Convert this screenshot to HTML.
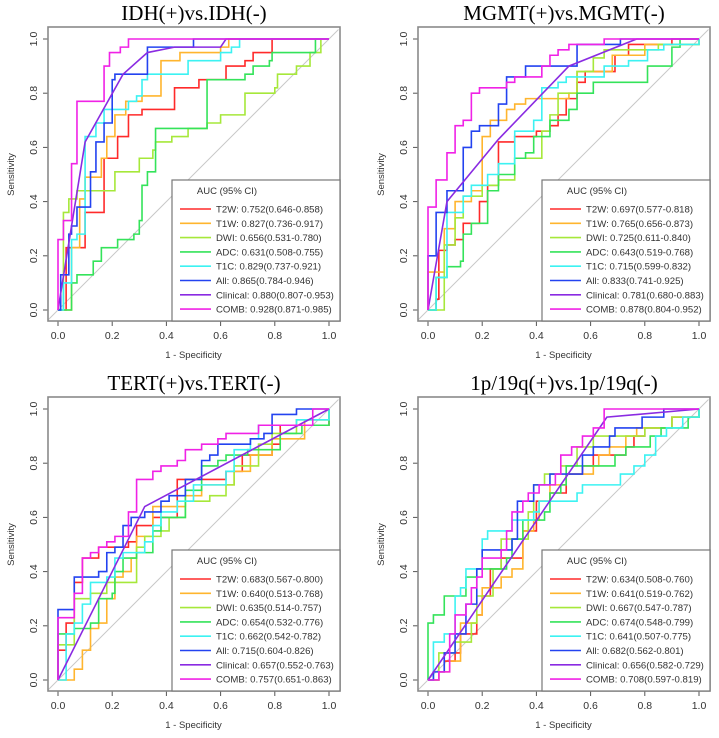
<!DOCTYPE html>
<html><head><meta charset="utf-8"><style>
html,body{margin:0;padding:0;background:#fff;}
svg{display:block;}
</style></head><body>
<svg id="c" width="719" height="738" xmlns="http://www.w3.org/2000/svg"></svg>
<script>
const seriesNames = ["T2W","T1W","DWI","ADC","T1C","All","Clinical","COMB"];
const titles = ["IDH(+)vs.IDH(-)","MGMT(+)vs.MGMT(-)","TERT(+)vs.TERT(-)","1p/19q(+)vs.1p/19q(-)"];
const xTicks = [0,0.2,0.4,0.6,0.8,1.0];
const yTicks = [0,0.2,0.4,0.6,0.8,1.0];
const aucIDH = ["0.752(0.646-0.858)","0.827(0.736-0.917)","0.656(0.531-0.780)","0.631(0.508-0.755)","0.829(0.737-0.921)","0.865(0.784-0.946)","0.880(0.807-0.953)","0.928(0.871-0.985)"];
const aucMGMT = ["0.697(0.577-0.818)","0.765(0.656-0.873)","0.725(0.611-0.840)","0.643(0.519-0.768)","0.715(0.599-0.832)","0.833(0.741-0.925)","0.781(0.680-0.883)","0.878(0.804-0.952)"];
const aucTERT = ["0.683(0.567-0.800)","0.640(0.513-0.768)","0.635(0.514-0.757)","0.654(0.532-0.776)","0.662(0.542-0.782)","0.715(0.604-0.826)","0.657(0.552-0.763)","0.757(0.651-0.863)"];
const auc1p19q = ["0.634(0.508-0.760)","0.641(0.519-0.762)","0.667(0.547-0.787)","0.674(0.548-0.799)","0.641(0.507-0.775)","0.682(0.562-0.801)","0.656(0.582-0.729)","0.708(0.597-0.819)"];

const idhT2W=[[0,0],[0.03,0.23],[0.1,0.31],[0.1,0.36],[0.17,0.36],[0.17,0.56],[0.22,0.56],[0.22,0.64],[0.26,0.64],[0.26,0.72],[0.31,0.72],[0.31,0.74],[0.43,0.74],[0.43,0.82],[0.52,0.82],[0.52,0.85],[0.62,0.85],[0.62,0.9],[0.69,0.9],[0.69,0.92],[0.72,0.95],[0.79,0.95],[0.79,1],[1,1]];
const idhT1W=[[0,0],[0.05,0.23],[0.08,0.41],[0.1,0.49],[0.16,0.56],[0.18,0.64],[0.21,0.72],[0.25,0.77],[0.31,0.79],[0.38,0.88],[0.38,0.92],[0.45,0.95],[0.6,0.97],[0.63,1],[1,1]];
const idhDWI=[[0,0],[0.02,0.36],[0.04,0.41],[0.07,0.44],[0.14,0.44],[0.21,0.51],[0.3,0.56],[0.35,0.59],[0.36,0.62],[0.42,0.64],[0.48,0.67],[0.55,0.69],[0.6,0.72],[0.69,0.72],[0.69,0.8],[0.8,0.82],[0.81,0.87],[0.88,0.9],[0.93,0.95],[0.97,1],[1,1]];
const idhADC=[[0,0],[0.05,0.03],[0.05,0.1],[0.07,0.13],[0.12,0.13],[0.13,0.18],[0.16,0.23],[0.22,0.26],[0.28,0.28],[0.3,0.33],[0.31,0.46],[0.33,0.51],[0.36,0.67],[0.46,0.67],[0.55,0.85],[0.67,0.85],[0.69,0.87],[0.72,0.9],[0.78,0.92],[0.79,0.95],[0.88,0.95],[0.95,0.97],[0.95,1],[1,1]];
const idhT1C=[[0,0],[0.02,0.05],[0.02,0.1],[0.05,0.26],[0.07,0.28],[0.1,0.64],[0.14,0.69],[0.17,0.74],[0.26,0.77],[0.29,0.79],[0.31,0.82],[0.31,0.85],[0.33,0.87],[0.48,0.92],[0.6,0.95],[0.64,0.97],[0.67,1],[1,1]];
const idhAll=[[0,0],[0.01,0.13],[0.04,0.28],[0.05,0.31],[0.07,0.38],[0.12,0.51],[0.14,0.62],[0.17,0.69],[0.2,0.85],[0.21,0.87],[0.33,0.87],[0.33,0.97],[0.5,0.97],[0.5,1],[1,1]];
const idhClin=[[0,0],[0.1,0.62],[0.24,0.87],[0.33,0.95],[0.43,0.97],[0.6,0.97],[0.62,1],[1,1]];
const idhCOMB=[[0,0],[0,0.26],[0.02,0.33],[0.05,0.54],[0.07,0.77],[0.17,0.9],[0.19,0.95],[0.23,0.97],[0.26,1],[1,1]];
const mgT2W=[[0,0],[0.03,0.04],[0.04,0.22],[0.07,0.24],[0.1,0.26],[0.13,0.32],[0.19,0.34],[0.19,0.4],[0.22,0.46],[0.26,0.62],[0.32,0.64],[0.4,0.66],[0.45,0.68],[0.48,0.72],[0.51,0.78],[0.55,0.84],[0.58,0.88],[0.69,0.94],[0.74,0.98],[0.9,1],[1,1]];
const mgT1W=[[0,0],[0,0.14],[0.06,0.3],[0.1,0.4],[0.16,0.44],[0.2,0.64],[0.23,0.7],[0.29,0.74],[0.32,0.76],[0.36,0.78],[0.52,0.8],[0.55,0.88],[0.68,0.94],[0.8,0.98],[1,1]];
const mgDWI=[[0,0],[0.06,0.24],[0.1,0.34],[0.13,0.42],[0.2,0.46],[0.26,0.48],[0.32,0.56],[0.42,0.66],[0.45,0.72],[0.48,0.8],[0.55,0.88],[0.61,0.93],[0.65,0.96],[0.85,0.98],[1,1]];
const mgADC=[[0,0],[0.03,0.12],[0.07,0.16],[0.12,0.18],[0.13,0.28],[0.16,0.32],[0.22,0.44],[0.26,0.5],[0.32,0.56],[0.36,0.58],[0.39,0.64],[0.45,0.7],[0.52,0.74],[0.55,0.8],[0.61,0.84],[0.81,0.9],[0.9,0.97],[0.93,1],[1,1]];
const mgT1C=[[0,0],[0.03,0.06],[0.03,0.12],[0.07,0.36],[0.13,0.42],[0.16,0.46],[0.22,0.5],[0.26,0.54],[0.32,0.66],[0.39,0.7],[0.42,0.82],[0.48,0.84],[0.51,0.86],[0.65,0.9],[0.74,0.92],[0.81,0.96],[0.87,0.98],[1,1]];
const mgAll=[[0,0],[0,0.2],[0.03,0.36],[0.07,0.44],[0.13,0.6],[0.16,0.66],[0.19,0.68],[0.26,0.76],[0.29,0.86],[0.36,0.9],[0.55,0.98],[0.71,1],[1,1]];
const mgClin=[[0,0],[0.07,0.4],[0.26,0.63],[0.52,0.9],[0.77,1],[1,1]];
const mgCOMB=[[0,0],[0,0.38],[0.03,0.48],[0.07,0.58],[0.1,0.68],[0.13,0.7],[0.16,0.8],[0.19,0.82],[0.29,0.84],[0.32,0.86],[0.42,0.9],[0.45,0.94],[0.48,0.96],[0.52,0.98],[0.65,1],[1,1]];
const teT2W=[[0,0],[0,0.11],[0.03,0.21],[0.06,0.36],[0.09,0.45],[0.15,0.49],[0.26,0.51],[0.29,0.57],[0.35,0.6],[0.44,0.6],[0.44,0.74],[0.5,0.74],[0.62,0.77],[0.68,0.83],[0.79,0.87],[0.82,0.87],[0.82,0.94],[1,0.94],[1,1]];
const teT1W=[[0,0],[0.06,0.04],[0.09,0.11],[0.12,0.19],[0.15,0.21],[0.18,0.3],[0.21,0.38],[0.24,0.4],[0.27,0.45],[0.29,0.53],[0.35,0.64],[0.47,0.68],[0.53,0.72],[0.65,0.77],[0.71,0.83],[0.79,0.89],[0.91,0.96],[1,1]];
const teDWI=[[0,0],[0,0.13],[0.06,0.3],[0.12,0.32],[0.18,0.36],[0.29,0.49],[0.32,0.53],[0.38,0.55],[0.41,0.6],[0.47,0.66],[0.56,0.68],[0.62,0.72],[0.65,0.79],[0.74,0.87],[0.79,0.91],[0.88,0.96],[1,1]];
const teADC=[[0,0],[0,0.17],[0.06,0.19],[0.12,0.21],[0.15,0.3],[0.2,0.32],[0.21,0.4],[0.24,0.45],[0.29,0.47],[0.35,0.55],[0.38,0.6],[0.47,0.7],[0.53,0.79],[0.59,0.81],[0.62,0.83],[0.7,0.85],[0.82,0.91],[0.9,0.94],[1,1]];
const teT1C=[[0,0],[0.03,0.17],[0.06,0.21],[0.09,0.28],[0.12,0.36],[0.18,0.38],[0.21,0.45],[0.24,0.47],[0.32,0.51],[0.35,0.57],[0.38,0.62],[0.44,0.66],[0.5,0.72],[0.62,0.77],[0.65,0.85],[0.71,0.89],[0.74,0.94],[0.88,0.96],[1,1]];
const teAll=[[0,0],[0,0.26],[0.06,0.38],[0.15,0.4],[0.18,0.47],[0.21,0.49],[0.24,0.57],[0.27,0.6],[0.32,0.62],[0.38,0.66],[0.41,0.68],[0.47,0.74],[0.53,0.81],[0.56,0.83],[0.59,0.87],[0.71,0.89],[0.76,0.91],[0.79,0.98],[0.88,1],[1,1]];
const teClin=[[0,0],[0.32,0.64],[1,1]];
const teCOMB=[[0,0],[0,0.23],[0.06,0.32],[0.09,0.45],[0.12,0.47],[0.15,0.49],[0.18,0.51],[0.21,0.53],[0.26,0.62],[0.29,0.74],[0.35,0.77],[0.38,0.79],[0.44,0.81],[0.47,0.85],[0.53,0.87],[0.59,0.89],[0.62,0.91],[0.74,0.94],[0.94,1],[1,1]];
const pqT2W=[[0,0],[0.04,0.03],[0.06,0.07],[0.1,0.1],[0.12,0.17],[0.18,0.24],[0.2,0.31],[0.23,0.41],[0.27,0.45],[0.35,0.55],[0.4,0.66],[0.45,0.69],[0.51,0.76],[0.57,0.79],[0.61,0.83],[0.73,0.86],[0.76,0.9],[0.8,0.93],[0.9,0.97],[1,1]];
const pqT1W=[[0,0],[0.04,0.03],[0.08,0.07],[0.12,0.21],[0.18,0.24],[0.2,0.34],[0.27,0.38],[0.31,0.41],[0.35,0.48],[0.35,0.55],[0.39,0.59],[0.41,0.66],[0.45,0.72],[0.51,0.76],[0.61,0.79],[0.63,0.83],[0.67,0.86],[0.73,0.9],[0.77,0.93],[0.9,0.97],[1,1]];
const pqDWI=[[0,0],[0.04,0.1],[0.1,0.14],[0.16,0.21],[0.18,0.31],[0.24,0.41],[0.27,0.52],[0.37,0.62],[0.39,0.72],[0.43,0.76],[0.49,0.79],[0.55,0.86],[0.61,0.9],[0.8,0.93],[0.9,0.97],[1,1]];
const pqADC=[[0,0],[0,0.21],[0.02,0.24],[0.06,0.31],[0.14,0.38],[0.18,0.41],[0.29,0.45],[0.31,0.52],[0.35,0.59],[0.43,0.62],[0.45,0.69],[0.49,0.72],[0.51,0.79],[0.69,0.83],[0.73,0.86],[0.82,0.9],[0.86,0.93],[0.96,0.97],[1,1]];
const pqT1C=[[0,0],[0.02,0.14],[0.06,0.17],[0.1,0.31],[0.12,0.34],[0.14,0.41],[0.2,0.45],[0.2,0.52],[0.22,0.55],[0.31,0.59],[0.39,0.62],[0.41,0.66],[0.55,0.69],[0.57,0.72],[0.71,0.76],[0.76,0.79],[0.8,0.83],[0.84,0.9],[0.88,0.93],[0.94,0.97],[1,1]];
const pqAll=[[0,0],[0.02,0.03],[0.06,0.1],[0.1,0.17],[0.14,0.28],[0.18,0.41],[0.2,0.48],[0.31,0.52],[0.33,0.66],[0.39,0.72],[0.45,0.76],[0.57,0.79],[0.57,0.83],[0.61,0.86],[0.67,0.9],[0.69,0.93],[0.79,0.97],[0.87,1],[1,1]];
const pqClin=[[0,0],[0.66,0.97],[1,1]];
const pqCOMB=[[0,0],[0.02,0],[0.04,0.03],[0.08,0.17],[0.1,0.24],[0.14,0.28],[0.16,0.34],[0.18,0.38],[0.2,0.45],[0.27,0.48],[0.29,0.55],[0.31,0.62],[0.35,0.66],[0.37,0.69],[0.41,0.72],[0.47,0.76],[0.49,0.83],[0.53,0.86],[0.57,0.9],[0.61,0.93],[0.65,0.97],[0.65,1],[1,1]];

const colors=["#ff2a2a","#ffb52e","#a6e83a","#34e35a","#3cf2f2","#2343f0","#8a2be2","#f022e6"];
const panelCurves=[[idhT2W,idhT1W,idhDWI,idhADC,idhT1C,idhAll,idhClin,idhCOMB],[mgT2W,mgT1W,mgDWI,mgADC,mgT1C,mgAll,mgClin,mgCOMB],[teT2W,teT1W,teDWI,teADC,teT1C,teAll,teClin,teCOMB],[pqT2W,pqT1W,pqDWI,pqADC,pqT1C,pqAll,pqClin,pqCOMB]];
const panelAuc=[aucIDH,aucMGMT,aucTERT,auc1p19q];
const panelIds=["idh","mgmt","tert","1p19q"];

const svg=document.getElementById('c');
const NS='http://www.w3.org/2000/svg';
function mk(tag,attrs,parent){const e=document.createElementNS(NS,tag);for(const k in attrs)e.setAttribute(k,attrs[k]);(parent||svg).appendChild(e);return e;}

const origins=[[48,27],[418,27],[48,397],[418,397]];
origins.forEach((o,p)=>{
  const bx=o[0],by=o[1],bw=292,bh=294;
  const g=mk('g',{});
  
  
  const sx=v=>bx+10+v*271;
  const sy=v=>by+bh-11-v*271;
  const t=mk('text',{x:bx+bw/2,y:by-7,'text-anchor':'middle','font-family':'Liberation Serif, serif','font-size':21,fill:'#000'},g);
  t.textContent=titles[p];
  
  
  const d=mk('line',{x1:sx(-0.035),y1:sy(-0.035),x2:sx(1.035),y2:sy(1.035),stroke:'#c8c8c8','stroke-width':1},g);
  
  
  xTicks.forEach(v=>{
    mk('line',{x1:sx(v),y1:by+bh,x2:sx(v),y2:by+bh+5,stroke:'#555','stroke-width':1},g);
    const tl=mk('text',{x:sx(v),y:by+bh+18,'text-anchor':'middle','font-family':'Liberation Sans, sans-serif','font-size':10.5,fill:'#333'},g);
    tl.textContent=v.toFixed(1);
    
    
  });
  yTicks.forEach(v=>{
    mk('line',{x1:bx-5,y1:sy(v),x2:bx,y2:sy(v),stroke:'#555','stroke-width':1},g);
    const tl=mk('text',{x:bx-11,y:sy(v),'text-anchor':'middle','font-family':'Liberation Sans, sans-serif','font-size':10.5,fill:'#333',transform:`rotate(-90 ${bx-11} ${sy(v)})`},g);
    tl.textContent=v.toFixed(1);
    
    
  });
  const xl=mk('text',{x:sx(0.5),y:by+bh+37,'text-anchor':'middle','font-family':'Liberation Sans, sans-serif','font-size':9.5,fill:'#333'},g);
  xl.textContent='1 - Specificity';
  
  
  const yx=bx-34, yy=sy(0.5);
  const yl=mk('text',{x:yx,y:yy,'text-anchor':'middle','font-family':'Liberation Sans, sans-serif','font-size':9.5,fill:'#333',transform:`rotate(-90 ${yx} ${yy})`},g);
  yl.textContent='Sensitivity';
  
  
  panelCurves[p].forEach((pts,i)=>{
    let dstr='M'+sx(pts[0][0])+','+sy(pts[0][1]);
    for(let k=1;k<pts.length;k++){
      if(i===6){dstr+=' L'+sx(pts[k][0])+','+sy(pts[k][1]);}
      else{dstr+=' L'+sx(pts[k][0])+','+sy(pts[k-1][1])+' L'+sx(pts[k][0])+','+sy(pts[k][1]);}
    }
    const path=mk('path',{d:dstr,fill:'none',stroke:colors[i],'stroke-width':1.6},g);
    
    
  });
  const box=mk('rect',{x:bx,y:by,width:bw,height:bh,fill:'none',stroke:'#8a8a8a','stroke-width':1.6},g);
  
  
  const lx=bx+124, ly=by+153;
  const lg=mk('g',{},g);
  
  
  mk('rect',{x:lx,y:ly,width:bw-124,height:bh-153,fill:'#fff',stroke:'#777','stroke-width':1.2},lg);
  const lt=mk('text',{x:lx+55,y:ly+14,'text-anchor':'middle','font-family':'Liberation Sans, sans-serif','font-size':9.5,fill:'#333'},lg);
  lt.textContent='AUC (95% CI)';
  
  
  seriesNames.forEach((n,i)=>{
    const yv=ly+29+i*14.3;
    mk('line',{x1:lx+8,y1:yv,x2:lx+39,y2:yv,stroke:colors[i],'stroke-width':1.6},lg);
    const et=mk('text',{x:lx+44,y:yv+3.5,'font-family':'Liberation Sans, sans-serif','font-size':9.6,fill:'#333'},lg);
    et.textContent=n+': '+panelAuc[p][i];
    
    
  });
});
</script>
</body></html>
